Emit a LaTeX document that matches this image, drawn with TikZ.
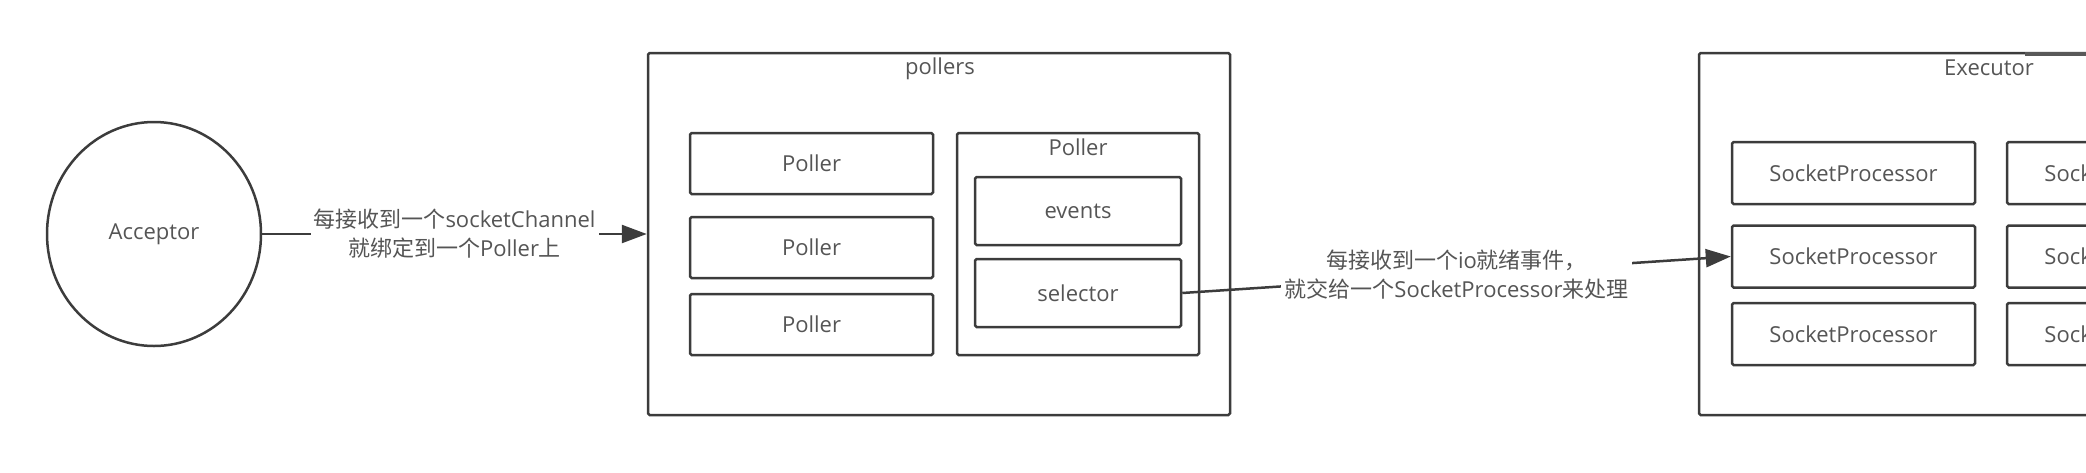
\documentclass[tikz,border=0pt]{standalone}
\usepackage{fontspec}
\setmainfont{Open Sans}
\newfontfamily\cjk{Noto Sans CJK SC}
\usetikzlibrary{shapes.geometric,arrows.meta,calc}
\definecolor{ln}{HTML}{3C3C3C}
\definecolor{tx}{HTML}{555555}
\begin{document}
\begin{tikzpicture}[x=0.5pt,y=-0.5pt,
  every node/.style={text=tx,font=\fontsize{11pt}{14.5pt}\selectfont},
  box/.style={draw=ln,line width=1.25pt,rounded corners=0.8pt,inner sep=0pt},
  smallbox/.style={box,minimum width=121.5pt,minimum height=30.5pt},
  ttl/.style={inner sep=0pt},
  conn/.style={draw=ln,line width=1.25pt,-{Triangle[length=12.5pt,width=9pt]}},
  lbl/.style={fill=white,align=center,inner sep=1.5pt}]
\useasboundingbox (0,0) rectangle (2086,472);
\clip (0,0) rectangle (2086,472);
% Acceptor
\node[ellipse,draw=ln,line width=1.25pt,inner sep=0pt,minimum width=107pt,minimum height=112pt] (acc) at (154,234) {Acceptor};
% pollers
\node[box,minimum width=291pt,minimum height=181pt] (pollers) at (939,234) {};
\node[ttl] (pollersT) at (940,69) {pollers};
\node[smallbox] (p1) at (811.5,163.5) {Poller};
\node[smallbox] (p2) at (811.5,247.5) {Poller};
\node[smallbox] (p3) at (811.5,324.5) {Poller};
\node[box,minimum width=121pt,minimum height=111pt] (pbig) at (1078,244) {};
\node[ttl] (pbigT) at (1078,147) {Poller};
\node[box,minimum width=103pt,minimum height=34pt] (events) at (1078,211) {events};
\node[box,minimum width=103pt,minimum height=34pt] (selector) at (1078,293) {selector};
% Executor
\node[box,minimum width=292pt,minimum height=181pt] (exec) at (1991,234) {};
\node[ttl] (execT) at (1989,68) {Executor};
\draw[ln!85!white,line width=2pt] ($(exec.north)+(34,2.5)$) -- ($(exec.north east)+(0,2.5)$);
\node[smallbox,minimum height=31pt] (sp11) at (1853.5,173) {SocketProcessor};
\node[smallbox,minimum height=31pt] (sp12) at (1853.5,256.5) {SocketProcessor};
\node[smallbox,minimum height=31pt] (sp13) at (1853.5,334) {SocketProcessor};
\node[smallbox,minimum height=31pt] (sp21) at (2128.5,173) {SocketProcessor};
\node[smallbox,minimum height=31pt] (sp22) at (2128.5,256.5) {SocketProcessor};
\node[smallbox,minimum height=31pt] (sp23) at (2128.5,334) {SocketProcessor};
% connectors
\draw[conn] (acc.east) -- node[lbl] (l1) {{\cjk 每接收到一个}socketChannel\\{\cjk 就绑定到一个}Poller{\cjk 上}} (pollers.west);
\draw[conn] (selector.east) -- node[lbl] (l2) {{\cjk 每接收到一个}io{\cjk 就绪事件，}\\{\cjk 就交给一个}SocketProcessor{\cjk 来处理}} (sp12.west);
\end{tikzpicture}
\end{document}
